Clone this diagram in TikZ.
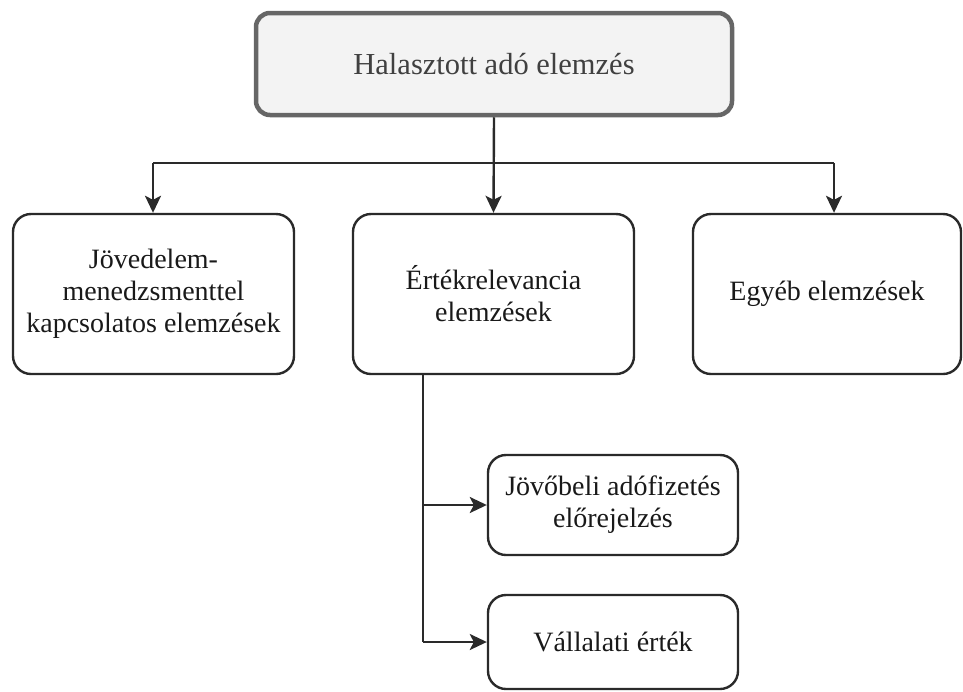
\documentclass[tikz,border=0pt]{standalone}
\usepackage{fontspec}
\setmainfont{Liberation Serif}
\usetikzlibrary{arrows.meta}
\definecolor{topfill}{HTML}{F3F3F3}
\definecolor{topline}{HTML}{666666}
\definecolor{linegray}{HTML}{2A2A2A}
\begin{document}
\begin{tikzpicture}[x=1pt,y=-1pt,line join=round,>={Stealth[length=17pt,width=16pt,inset=4pt]},
	box/.style={draw=linegray,line width=2.4pt,rounded corners=18pt,align=center,
		font=\fontsize{28}{32}\selectfont,text=black!90,inner sep=0pt},
	link/.style={draw=linegray,line width=2.4pt}]
	\useasboundingbox (0,0) rectangle (963,691);
	\node[box,draw=topline,line width=4.5pt,fill=topfill,rounded corners=14pt,text=black!75,
		font=\fontsize{30.5}{34}\selectfont,
		minimum width=476pt,minimum height=102pt] (top) at (494,64) {Halasztott adó elemzés};
	\node[box,minimum width=281pt,minimum height=160pt] (jov) at (153.5,294)
		{Jövedelem-\\menedzsmenttel\\kapcsolatos elemzések};
	\node[box,minimum width=281pt,minimum height=160pt] (ert) at (493.5,294)
		{Értékrelevancia\\elemzések};
	\node[box,minimum width=268pt,minimum height=160pt] (egy) at (827,294) {Egyéb elemzések};
	\node[box,minimum width=250pt,minimum height=100pt] (elo) at (613,505)
		{Jövőbeli adófizetés\\előrejelzés};
	\node[box,minimum width=250pt,minimum height=94pt] (val) at (613,642) {Vállalati érték};
	% bus below the top box
	\coordinate (busL) at (153,163);
	\coordinate (busR) at (834,163);
	\coordinate (stem) at (423,374);
	\draw[link,->] (top.south) -- (ert.north);
	\draw[link] (busL) -- (busR);
	\draw[link,->] (busL) -- (jov.north -| busL);
	\draw[link,->] (busR) -- (egy.north -| busR);
	\draw[link] (stem) -- (stem |- val.west);
	\draw[link,->] (stem |- elo.west) -- (elo.west);
	\draw[link,->] (stem |- val.west) -- (val.west);
\end{tikzpicture}
\end{document}
